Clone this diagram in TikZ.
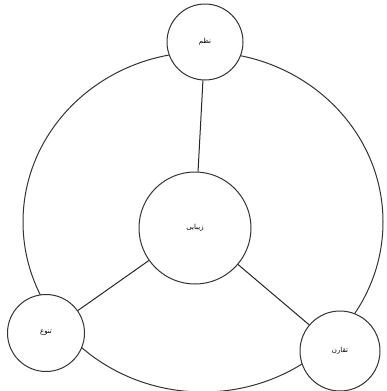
\documentclass[tikz,border=0pt]{standalone}
\usepackage{fontspec}
\TeXXeTstate=1
\newfontfamily\arabicfont[Script=Arabic]{DejaVu Sans}
\begin{document}
\begin{tikzpicture}[x=1pt,y=-1pt,
  ring/.style={draw=black!80,line width=1pt},
  bubble/.style={circle,draw=black!80,line width=1pt,fill=white,inner sep=0pt,font=\arabicfont\fontsize{7}{8}\selectfont},
  link/.style={draw=black!85,line width=1pt}]
\useasboundingbox (0,0) rectangle (387,391);
\draw[ring] (203,222) ellipse [x radius=180,y radius=170];
\node[bubble,minimum size=76pt] (top) at (205,42) {\beginR نظم\endR};
\node[bubble,minimum size=112pt] (mid) at (195,228) {\beginR زیبایی\endR};
\node[bubble,minimum size=77pt] (bl) at (46,333) {\beginR تنوع\endR};
\node[bubble,minimum size=80pt] (br) at (340,351) {\beginR تقارن\endR};
\draw[link] (top) -- (mid);
\draw[link] (mid) -- (bl);
\draw[link] (mid) -- (br);
\end{tikzpicture}
\end{document}
